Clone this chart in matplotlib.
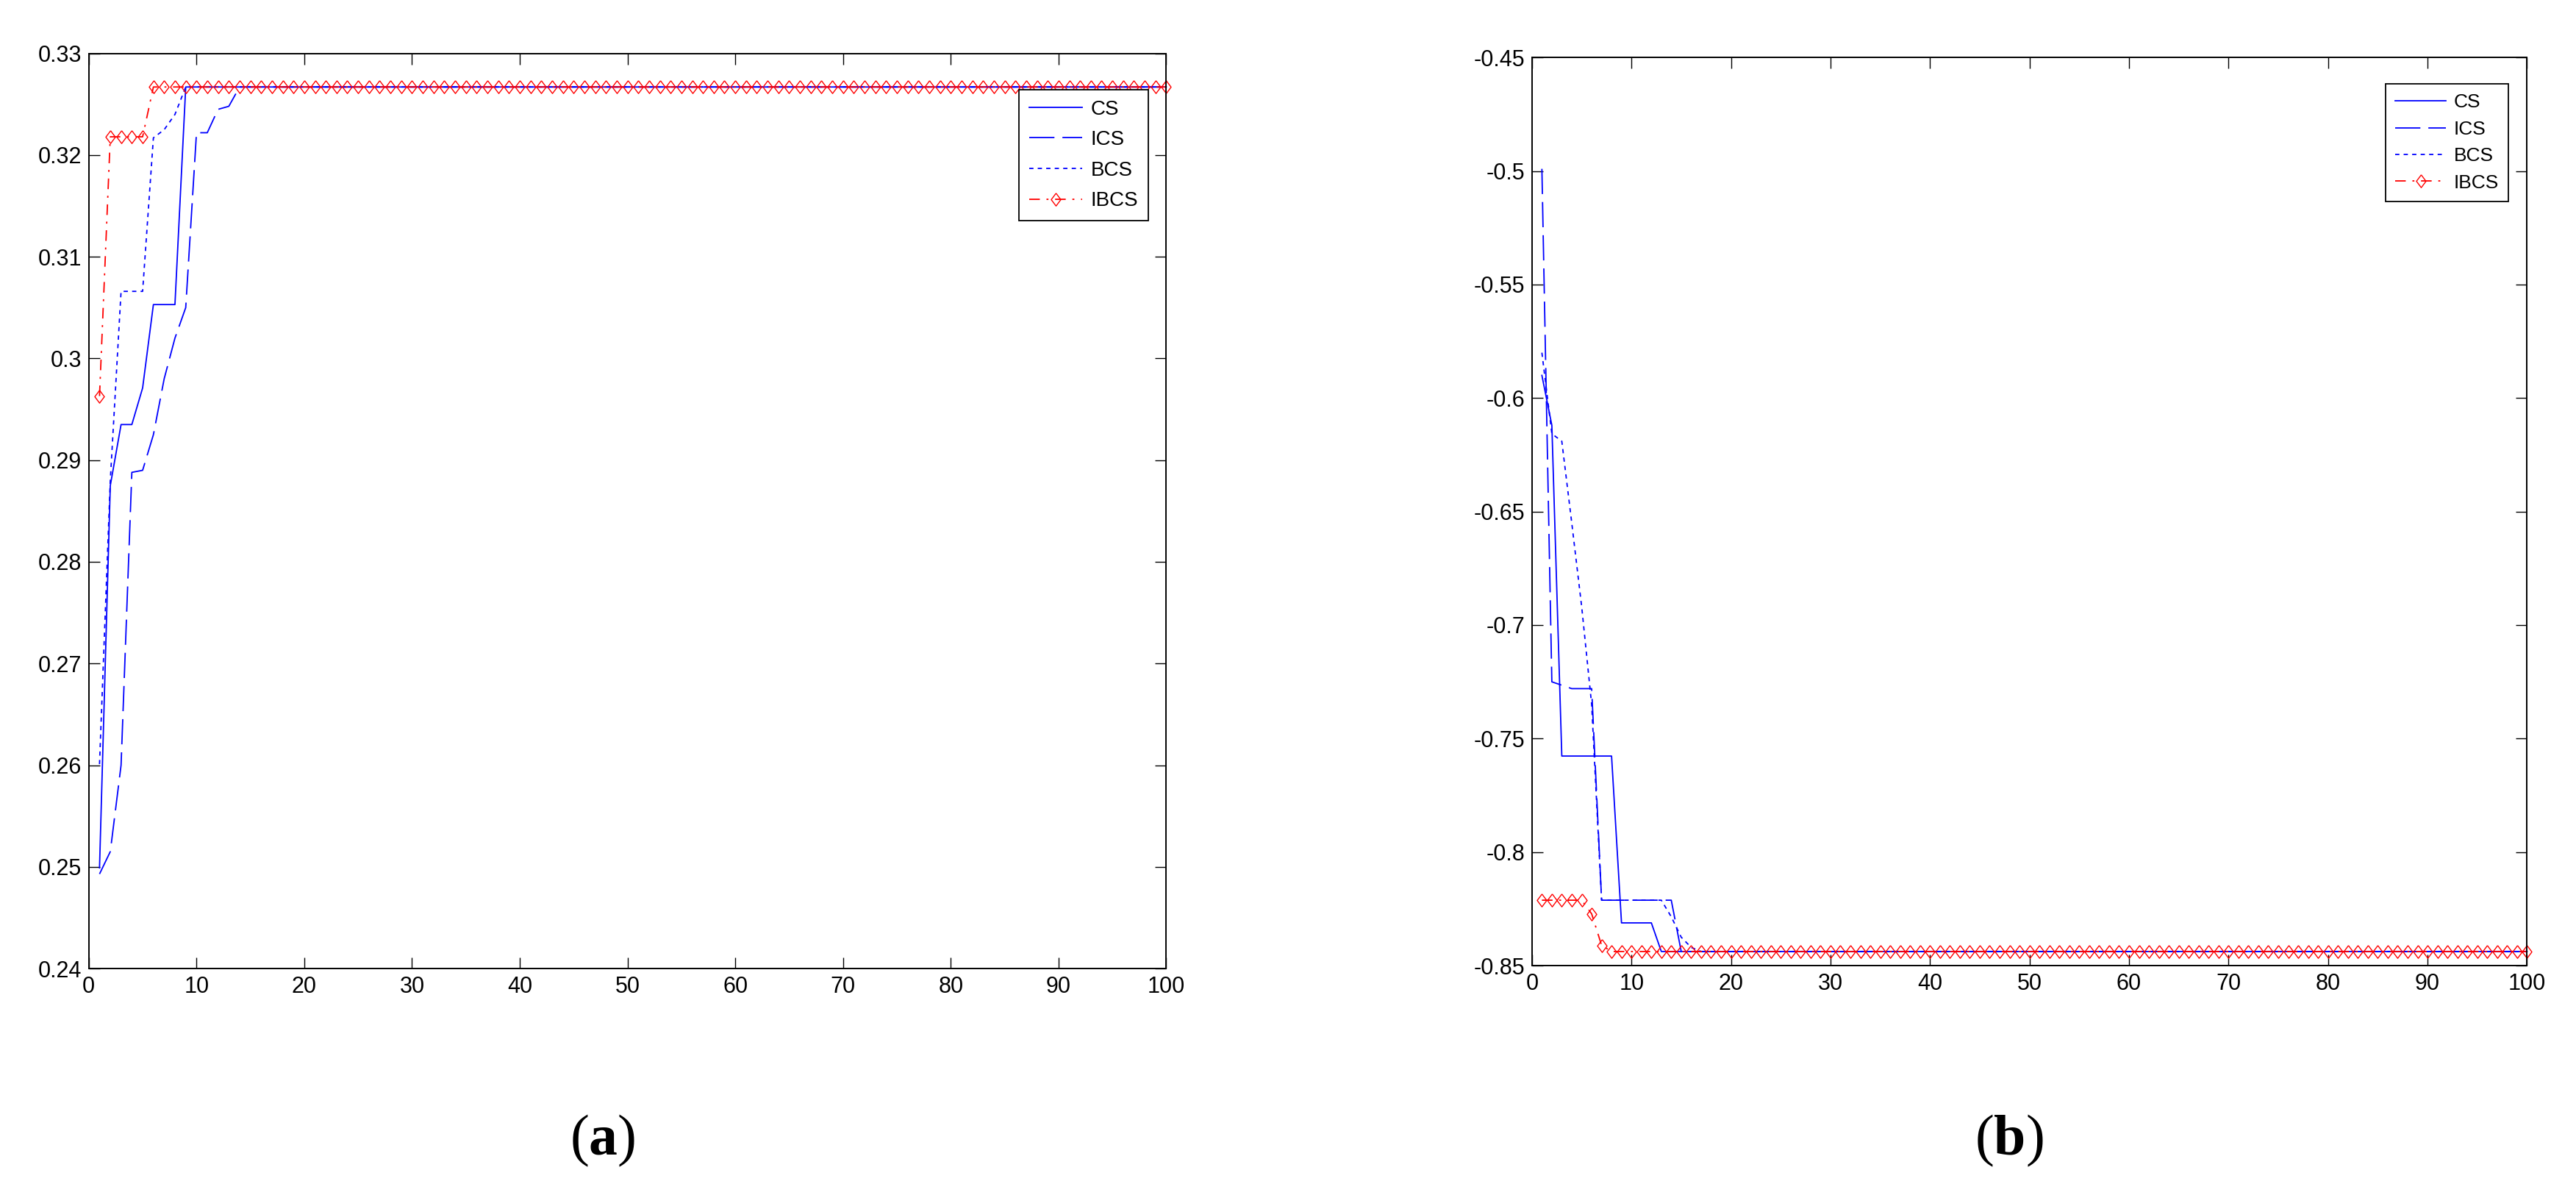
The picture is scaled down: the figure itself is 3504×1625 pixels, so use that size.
import matplotlib.pyplot as plt
from matplotlib.ticker import MultipleLocator, FuncFormatter

plt.rcParams['font.family'] = ['Liberation Sans', 'DejaVu Sans']
plt.rcParams['mathtext.fontset'] = 'custom'
plt.rcParams['mathtext.rm'] = 'Liberation Serif'
plt.rcParams['mathtext.bf'] = 'Liberation Serif:bold'

iteraciones = list(range(1, 101))

# panel (a): curvas de convergencia
cs_a = [0.2499, 0.2875, 0.2935, 0.2935, 0.2971, 0.3053, 0.3053, 0.3053] + [0.3267] * 92
ics_a = [0.2493, 0.2515, 0.2600, 0.2888, 0.2890, 0.2925, 0.2980, 0.3020, 0.3050,
         0.3222, 0.3222, 0.3245, 0.3248] + [0.3267] * 87
bcs_a = [0.2601, 0.2880, 0.3066, 0.3066, 0.3066, 0.3217, 0.3225, 0.3240] + [0.3267] * 92
ibcs_a = [0.2963, 0.3218, 0.3218, 0.3218, 0.3218] + [0.3267] * 95

# panel (b)
cs_b = [-0.590, -0.612, -0.7577, -0.7577, -0.7577, -0.7577, -0.7577, -0.7577,
        -0.8312, -0.8312, -0.8312, -0.8312] + [-0.8438] * 88
ics_b = [-0.499, -0.725, -0.7265, -0.728, -0.728, -0.728] + [-0.8212] * 8 + [-0.8438] * 86
bcs_b = [-0.580, -0.6157, -0.619, -0.655, -0.692, -0.735] + [-0.8212] * 7 + \
        [-0.8285, -0.8375, -0.842] + [-0.8438] * 84
ibcs_b = [-0.8212] * 5 + [-0.8272, -0.8411] + [-0.8438] * 93

etiquetas = ["CS", "ICS", "BCS", "IBCS"]

azul = "#0000ff"
rojo = "#ff0000"
diamante = [(0, 1), (0.75, 0), (0, -1), (-0.75, 0), (0, 1)]
estilos = [
    dict(color=azul, linestyle="-"),
    dict(color=azul, linestyle=(0, (19, 6))),
    dict(color=azul, linestyle=(0, (3.2, 3.2))),
    dict(color=rojo, linestyle=(0, (8, 5, 1.5, 5)), marker=diamante,
         markersize=12.5, markerfacecolor="none", markeredgecolor=rojo,
         markeredgewidth=1.0),
]

fig = plt.figure(figsize=(35.04, 16.25), dpi=100)
ax_a = fig.add_axes([0.03445, 0.1895, 0.4183, 0.7658])
ax_b = fig.add_axes([0.5947, 0.1920, 0.3863, 0.7598])

formato = FuncFormatter(lambda v, pos: "%g" % round(v, 4))


def dibujar(ax, series, ylim, paso_y, ancla, tam_leyenda, esp_leyenda):
    for datos, est, nombre in zip(series, estilos, etiquetas):
        ax.plot(iteraciones, datos, linewidth=1.3, label=nombre, clip_on=False, **est)
    ax.set_xlim(0, 100)
    ax.set_ylim(*ylim)
    ax.xaxis.set_major_locator(MultipleLocator(10))
    ax.yaxis.set_major_locator(MultipleLocator(paso_y))
    ax.xaxis.set_major_formatter(formato)
    ax.yaxis.set_major_formatter(formato)
    ax.tick_params(direction="in", top=True, right=True, length=10.5, width=1.0,
                   labelsize=22, pad=7)
    for s in ax.spines.values():
        s.set_linewidth(1.4)
    leg = ax.legend(loc="upper right", bbox_to_anchor=ancla,
                    bbox_transform=fig.transFigure, borderaxespad=0,
                    fontsize=tam_leyenda, handlelength=2.6, handletextpad=0.4,
                    labelspacing=esp_leyenda, borderpad=0.5, fancybox=False,
                    framealpha=1, edgecolor="black")
    leg.get_frame().set_linewidth(1.3)


dibujar(ax_a, [cs_a, ics_a, bcs_a, ibcs_a], (0.24, 0.33), 0.01,
        (0.4458, 0.9251), 20, 0.56)
dibujar(ax_b, [cs_b, ics_b, bcs_b, ibcs_b], (-0.85, -0.45), 0.05,
        (0.9737, 0.9297), 19, 0.47)

fig.text(0.234, 0.0455, r"($\mathbf{a}$)", fontsize=56, family="Liberation Serif",
         ha="center", va="center")
fig.text(0.780, 0.0455, r"($\mathbf{b}$)", fontsize=56, family="Liberation Serif",
         ha="center", va="center")

fig.savefig("out.png", dpi=100, facecolor="white")
